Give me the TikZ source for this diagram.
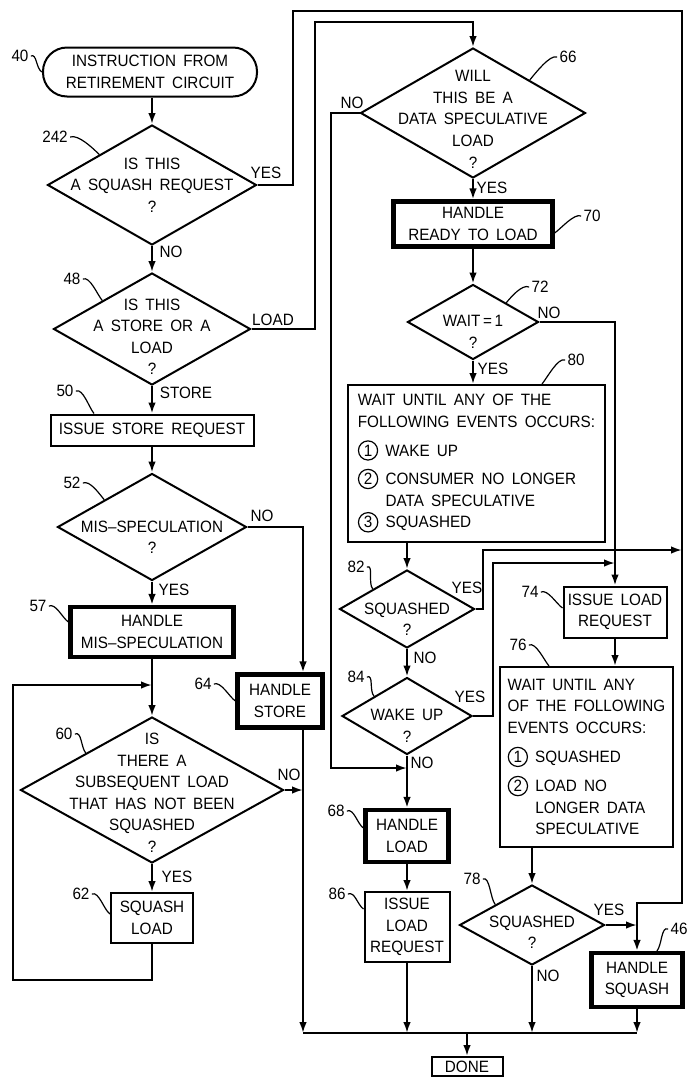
\documentclass[tikz,border=0pt]{standalone}
\usepackage{fontspec}
\setmainfont{Liberation Sans}[FakeStretch=0.93,WordSpace=1.7]
\usetikzlibrary{shapes.geometric,arrows.meta}

\newcommand{\dtxt}[2][0pt]{\makebox[0pt]{\smash{\raisebox{\dimexpr-2.8pt-#1\relax}{\begin{tabular}{@{}c@{}}#2\end{tabular}}}}}
\newcommand{\cnum}[1]{\tikz[baseline=(cn.base)]\node[circle,draw,minimum size=0pt,inner sep=0.9pt,line width=0.6pt](cn){#1};}

\tikzset{
  box/.style={draw, rectangle, line width=1pt, inner sep=2pt, align=center},
  thickbox/.style={box, line width=2.1pt},
  dia/.style={draw, diamond, line width=1pt, inner sep=0pt},
  numlabel/.style={inner sep=1pt},
  leader/.style={line width=0.6pt},
  flow/.style={line width=1pt},
}

\begin{document}
\begin{tikzpicture}[x=0.5pt, y=-0.5pt, font=\fontsize{8.2}{10.8}\selectfont, >={Latex[length=5.5pt,width=3.8pt]}]
   \useasboundingbox (0,0) rectangle (688,1077);
   % left column
   \node[box, rounded corners=12pt, minimum width=107pt, minimum height=24.5pt] (start) at (150,72) {INSTRUCTION FROM\\RETIREMENT CIRCUIT};
   \node[dia, minimum width=104.5pt, minimum height=60pt] (d242) at (152,185) {\dtxt{IS THIS\\A SQUASH REQUEST\\?}};
   \node[dia, minimum width=98.5pt, minimum height=56pt] (d48) at (152,329) {\dtxt[3.75pt]{IS THIS\\A STORE OR A\\LOAD\\?}};
   \node[box, minimum width=101.5pt, minimum height=15.5pt] (b50) at (152,430) {ISSUE STORE REQUEST};
   \node[dia, minimum width=94.5pt, minimum height=53.5pt] (d52) at (152,527) {\dtxt[5pt]{MIS--SPECULATION\\?}};
   \node[thickbox, minimum width=81.5pt, minimum height=25pt] (b57) at (152,632) {HANDLE\\MIS--SPECULATION};
   \node[thickbox, minimum width=42.5pt, minimum height=26.5pt] (b64) at (280,701) {HANDLE\\STORE};
   \node[dia, minimum width=131.5pt, minimum height=73pt] (d60) at (152,790) {\dtxt[1.25pt]{IS\\THERE A\\SUBSEQUENT LOAD\\THAT HAS NOT BEEN\\SQUASHED\\?}};
   \node[box, minimum width=41pt, minimum height=25pt] (b62) at (152,918) {SQUASH\\LOAD};
   % middle column
   \node[dia, minimum width=112.5pt, minimum height=65pt] (d66) at (473,113) {\dtxt[3pt]{WILL\\THIS BE A\\DATA SPECULATIVE\\LOAD\\?}};
   \node[thickbox, minimum width=79.5pt, minimum height=22.5pt] (b70) at (473,224) {HANDLE\\READY TO LOAD};
   \node[dia, minimum width=65.5pt, minimum height=37.5pt] (d72) at (473,322) {\dtxt[4.75pt]{WAIT\,=\,1\\?}};
   \node[box, align=left, minimum width=128.5pt, minimum height=78.5pt] (b80) at (476.5,463.5) {WAIT UNTIL ANY OF THE\\FOLLOWING EVENTS OCCURS:\\[3.5pt]\cnum{1} WAKE UP\\[3.5pt]\cnum{2} CONSUMER NO LONGER\\\hphantom{\cnum{2}} DATA SPECULATIVE\\\cnum{3} SQUASHED};
   \node[dia, minimum width=67.5pt, minimum height=39pt] (d82) at (407,609) {\dtxt[5pt]{SQUASHED\\?}};
   \node[dia, minimum width=65pt, minimum height=38.5pt] (d84) at (407,716) {\dtxt[4.75pt]{WAKE UP\\?}};
   \node[thickbox, minimum width=41.5pt, minimum height=26pt] (b68) at (407,836) {HANDLE\\LOAD};
   \node[box, minimum width=42.5pt, minimum height=35pt] (b86) at (407,927) {ISSUE\\LOAD\\REQUEST};
   % right column
   \node[box, minimum width=51.5pt, minimum height=25.5pt, inner xsep=1pt] (b74) at (615,612) {ISSUE LOAD\\REQUEST};
   \node[box, align=left, minimum width=86.5pt, minimum height=90pt] (b76) at (586.5,757) {WAIT UNTIL ANY\\OF THE FOLLOWING\\EVENTS OCCURS:\\[3.8pt]\cnum{1} SQUASHED\\[3.8pt]\cnum{2} LOAD NO\\\hphantom{\cnum{2}} LONGER DATA\\\hphantom{\cnum{2}} SPECULATIVE};
   \node[dia, minimum width=72.5pt, minimum height=40pt] (d78) at (532,925) {\dtxt[3.5pt]{SQUASHED\\?}};
   \node[thickbox, minimum width=45.5pt, minimum height=27pt] (b46) at (637,980) {HANDLE\\SQUASH};
   \node[box, minimum width=35.5pt, minimum height=9.5pt, inner sep=0.5pt] (done) at (467,1066.5) {DONE};

   % reference numbers
   \node[numlabel] (l40) at (20,56) {40};
   \node[numlabel] (l242) at (55,137) {242};
   \node[numlabel] (l48) at (72,279) {48};
   \node[numlabel] (l50) at (65,391) {50};
   \node[numlabel] (l52) at (72,483) {52};
   \node[numlabel] (l57) at (38,606) {57};
   \node[numlabel] (l64) at (203,684) {64};
   \node[numlabel] (l60) at (64,734) {60};
   \node[numlabel] (l62) at (81,894) {62};
   \node[numlabel] (l66) at (568,57) {66};
   \node[numlabel] (l70) at (592,216) {70};
   \node[numlabel] (l72) at (540,287) {72};
   \node[numlabel] (l80) at (576,360) {80};
   \node[numlabel] (l82) at (356,567) {82};
   \node[numlabel] (l74) at (530,592) {74};
   \node[numlabel] (l84) at (356,677) {84};
   \node[numlabel] (l76) at (518,645) {76};
   \node[numlabel] (l68) at (336,811) {68};
   \node[numlabel] (l86) at (337,894) {86};
   \node[numlabel] (l78) at (472,879) {78};
   \node[numlabel] (l46) at (679,929) {46};

   \draw[leader] (l40.east) .. controls +(6,-3) and +(-6,-3) .. (start.west);
   \draw[leader] (l242.east) .. controls +(8,-3) and +(-6,-6) .. (d242.north west);
   \draw[leader] (l48.east) .. controls +(7,-3) and +(-5,-6) .. (d48.north west);
   \draw[leader] (l50.east) .. controls +(7,-3) and +(-5,-6) .. ([xshift=-29pt]b50.north);
   \draw[leader] (l52.east) .. controls +(7,-3) and +(-5,-6) .. (d52.north west);
   \draw[leader] (l57.east) .. controls +(7,-3) and +(-6,-4) .. ([yshift=5pt]b57.west);
   \draw[leader] (l64.east) .. controls +(7,-3) and +(-6,-4) .. (b64.west);
   \draw[leader] (l60.east) .. controls +(7,-3) and +(-5,-6) .. (d60.north west);
   \draw[leader] (l62.east) .. controls +(7,-3) and +(-6,-4) .. ([yshift=2pt]b62.west);
   \draw[leader] (l66.west) .. controls +(-7,-3) and +(5,-6) .. (d66.north east);
   \draw[leader] (l70.west) .. controls +(-7,-3) and +(6,-4) .. ([yshift=-4.5pt]b70.east);
   \draw[leader] (l72.west) .. controls +(-7,-3) and +(5,-6) .. (d72.north east);
   \draw[leader] (l80.west) .. controls +(-7,-3) and +(5,-6) .. ([xshift=-32pt]b80.north east);
   \draw[leader] (l82.east) .. controls +(7,-3) and +(-5,-6) .. (d82.north west);
   \draw[leader] (l74.east) .. controls +(7,-3) and +(-6,-4) .. ([yshift=2pt]b74.west);
   \draw[leader] (l84.east) .. controls +(7,-3) and +(-5,-6) .. (d84.north west);
   \draw[leader] (l76.east) .. controls +(7,-3) and +(-5,-6) .. ([xshift=25pt]b76.north west);
   \draw[leader] (l68.east) .. controls +(7,-3) and +(-6,-4) .. ([yshift=4pt]b68.west);
   \draw[leader] (l86.east) .. controls +(7,-3) and +(-6,-4) .. ([yshift=9pt]b86.west);
   \draw[leader] (l78.east) .. controls +(7,-3) and +(-5,-6) .. (d78.north west);
   \draw[leader] (l46.west) .. controls +(-7,-3) and +(5,-6) .. ([xshift=10pt]b46.north);

   % branch labels
   \node (yes242) at (266,173) {YES};
   \node (no242) at (171,252) {NO};
   \node (load48) at (273,320) {LOAD};
   \node (store48) at (186,393) {STORE};
   \node (no52) at (262,516) {NO};
   \node (yes52) at (174,590) {YES};
   \node (no60) at (289,775) {NO};
   \node (yes60) at (177,877) {YES};
   \node (no66) at (352,103) {NO};
   \node (yes66) at (492,188) {YES};
   \node (no72) at (549,313) {NO};
   \node (yes72) at (493,369) {YES};
   \node (yes82) at (467,588) {YES};
   \node (no82) at (425,658) {NO};
   \node (yes84) at (470,697) {YES};
   \node (no84) at (422,763) {NO};
   \node (yes78) at (609,910) {YES};
   \node (no78) at (548,976) {NO};

   % corner points
   \coordinate (sq1) at (293,11);
   \coordinate (sq2) at (682,11);
   \coordinate (sq3) at (682,903);
   \coordinate (ld) at (315,22);
   \coordinate (bus) at (303,1033);
   \coordinate (loopA) at (13,685);
   \coordinate (loopB) at (13,980);
   \coordinate (nospec) at (331,768);
   \coordinate (up82) at (483,550);
   \coordinate (up84) at (493,563);

   % connectors
   \draw[flow,->] (d242.north |- start.south) -- (d242.north);
   \draw[flow,->] (d242.east) -| (sq1) -- (sq2) -- (sq3) -| (b46.north);
   \draw[flow,->] (d242.south) -- (d48.north);
   \draw[flow,->] (d48.east) -| (ld) -| (d66.north);
   \draw[flow,->] (d48.south) -- (b50.north);
   \draw[flow,->] (b50.south) -- (d52.north);
   \draw[flow,->] (d52.east) -| ([xshift=11.5pt]b64.north);
   \draw[flow,->] (d52.south) -- (b57.north);
   \draw[flow,->] (b57.south) -- (d60.north);
   \draw[flow,->] (d60.south) -- (b62.north);
   \draw[flow,->] (b62.south) |- (loopB) -- (loopA) -- (loopA -| b57.south);
   \draw[flow,->] (d60.east) -- (d60.east -| bus);
   \draw[flow,->] ([xshift=11.5pt]b64.south) -- (bus);
   \draw[flow] (bus) -- (bus -| b46.south);
   \draw[flow,->] (done.north |- bus) -- (done.north);
   \draw[flow,->] (d66.west) -| (nospec) -- (nospec -| b68.north);
   \draw[flow,->] (d66.south) -- (b70.north);
   \draw[flow,->] (b70.south) -- (d72.north);
   \draw[flow,->] (d72.east) -| (b74.north);
   \draw[flow,->] (d72.south) -- (d72.south |- b80.north);
   \draw[flow,->] (d82.north |- b80.south) -- (d82.north);
   \draw[flow,->] (d82.east) -| (up82) -- (up82 -| sq2);
   \draw[flow,->] (d82.south) -- (d84.north);
   \draw[flow,->] (d84.east) -| (up84) -- (up84 -| b74.north);
   \draw[flow,->] (d84.south) -- (b68.north);
   \draw[flow,->] (b68.south) -- (b86.north);
   \draw[flow,->] (b86.south) -- (b86.south |- bus);
   \draw[flow,->] (b74.south) -- (b74.south |- b76.north);
   \draw[flow,->] (d78.north |- b76.south) -- (d78.north);
   \draw[flow,->] (d78.east) -- (d78.east -| b46.north);
   \draw[flow,->] (d78.south) -- (d78.south |- bus);
   \draw[flow,->] (b46.south) -- (b46.south |- bus);
\end{tikzpicture}
\end{document}
